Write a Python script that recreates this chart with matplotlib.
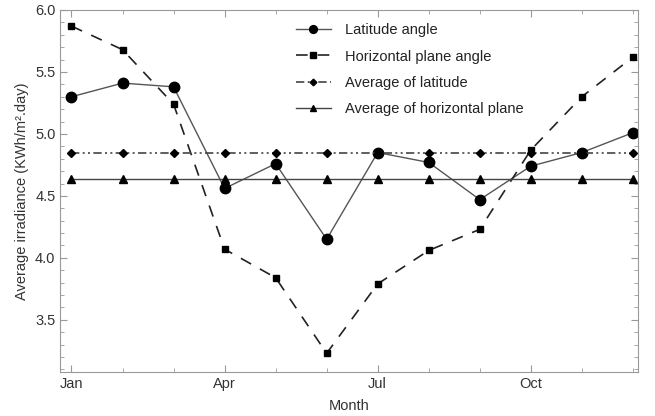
import matplotlib.pyplot as plt
from matplotlib.ticker import MultipleLocator

plt.rcParams['font.family'] = ['Liberation Sans', 'DejaVu Sans']

months = list(range(1, 13))
month_ticks = [1, 4, 7, 10]
month_labels = ['Jan', 'Apr', 'Jul', 'Oct']

latitude = [5.30, 5.41, 5.38, 4.56, 4.76, 4.15, 4.85, 4.77, 4.47, 4.74, 4.85, 5.01]
horizontal = [5.87, 5.68, 5.24, 4.07, 3.84, 3.23, 3.79, 4.06, 4.23, 4.87, 5.30, 5.62]
avg_latitude = [4.85] * 12
avg_horizontal = [4.64] * 12

fig = plt.figure(figsize=(6.55, 4.16), dpi=100)
ax = fig.add_axes([0.092, 0.106, 0.882, 0.870])

ax.plot(months, latitude, color='#555555', lw=1.0, marker='o', ms=7.5,
        mfc='black', mec='black', label='Latitude angle')
ax.plot(months, horizontal, color='#222222', lw=1.2, ls=(0, (7, 6)), marker='s', ms=5,
        mfc='black', mec='black', label='Horizontal plane angle')
ax.plot(months, avg_latitude, color='#444444', lw=1.2, ls=(0, (5, 2, 1.2, 2, 1.2, 2)),
        marker='D', ms=4.5, mfc='black', mec='black', label='Average of latitude')
ax.plot(months, avg_horizontal, color='#444444', lw=1.0, marker='^', ms=6,
        mfc='black', mec='black', label='Average of horizontal plane')

ax.set_xlim(0.78, 12.1)
ax.set_ylim(3.08, 6.0)
ax.set_xticks(month_ticks)
ax.set_xticklabels(month_labels)
ax.xaxis.set_minor_locator(MultipleLocator(1))
ax.yaxis.set_major_locator(MultipleLocator(0.5))
ax.yaxis.set_minor_locator(MultipleLocator(0.1))
ax.yaxis.set_major_formatter(plt.FormatStrFormatter('%.1f'))

for s in ax.spines.values():
    s.set_color('#999999')
ax.tick_params(which='both', direction='in', top=True, right=True, color='#999999',
               labelsize=10.5, labelcolor='#333333')
ax.tick_params(which='major', length=5)
ax.tick_params(which='minor', length=3)

ax.set_xlabel('Month', fontsize=10.5, color='#333333', labelpad=6)
ax.set_ylabel('Average irradiance (KWh/m².day)', fontsize=10.5, color='#333333')

ax.legend(loc='upper left', bbox_to_anchor=(0.385, 1.0), frameon=False, fontsize=10.5,
          handlelength=2.4, handletextpad=1.0, markerscale=0.75, labelspacing=0.85,
          labelcolor='#222222')

fig.savefig('out.png', dpi=100)
